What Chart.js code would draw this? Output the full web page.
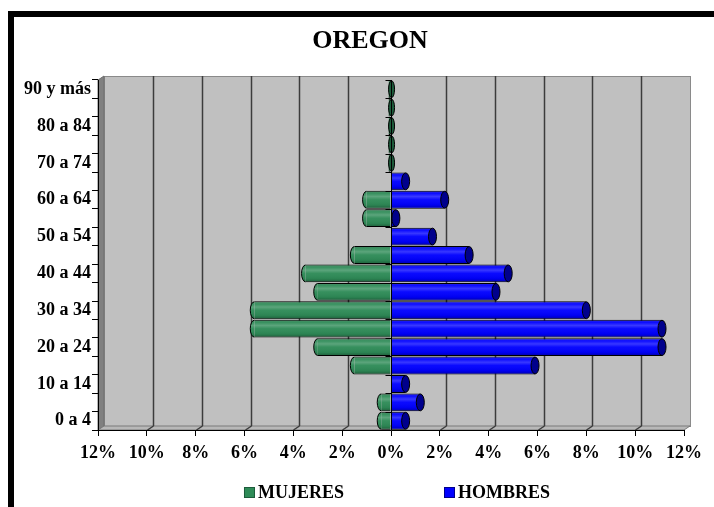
<!DOCTYPE html>
<html>
<head>
<meta charset="utf-8">
<script src="https://cdn.jsdelivr.net/npm/chart.js@4.4.1/dist/chart.umd.min.js"></script>
<style>
  html, body { margin: 0; padding: 0; background: #fff; }
  #wrap { width: 714px; height: 507px; }
</style>
</head>
<body>
<div id="wrap"><canvas id="c" width="714" height="507"></canvas></div>
<script>
// Age groups, from youngest (bottom) to oldest (top)
const ageGroups = ['0 a 4', '5 a 9', '10 a 14', '15 a 19', '20 a 24', '25 a 29', '30 a 34',
  '35 a 39', '40 a 44', '45 a 49', '50 a 54', '55 a 59', '60 a 64', '65 a 69',
  '70 a 74', '75 a 79', '80 a 84', '85 a 89', '90 y más'];

// Share of the population in each age group (%)
const mujeres = [0.4, 0.4, 0, 1.5, 3.0, 5.6, 5.6, 3.0, 3.5, 1.5, 0, 1.0, 1.0, 0, 0.1, 0.1, 0.1, 0.1, 0.1];
const hombres = [0.6, 1.2, 0.6, 5.9, 11.1, 11.1, 8.0, 4.3, 4.8, 3.2, 1.7, 0.2, 2.2, 0.6, 0, 0, 0, 0, 0];

const chartTitle = 'OREGON';
const seriesNames = ['MUJERES', 'HOMBRES'];
const seriesColors = ['#2E8B57', '#0000FF'];
const capColors = ['#1d5c3b', '#00008C'];
const xTickValues = [-12, -10, -8, -6, -4, -2, 0, 2, 4, 6, 8, 10, 12];

const FONT = '"Liberation Serif", "Times New Roman", serif';
const DEPTH = { dx: 6, dy: -4 };

// White page, heavy outer frame, and the 3D walls with their grid lines
const framePlugin = {
  id: 'frame',
  beforeDraw(chart) {
    const { ctx, chartArea: a, scales: { x } } = chart;
    const { dx, dy } = DEPTH;
    const L = a.left, R = a.right, T = a.top, B = a.bottom;
    ctx.save();
    ctx.fillStyle = '#fff';
    ctx.fillRect(0, 0, chart.width, chart.height);
    ctx.strokeStyle = '#000';
    ctx.lineWidth = 6;
    ctx.strokeRect(11, 14, chart.width + 40, chart.height + 40);

    // title
    ctx.fillStyle = '#000';
    ctx.font = 'bold 26px ' + FONT;
    ctx.textAlign = 'center';
    ctx.textBaseline = 'middle';
    ctx.fillText(chartTitle, 370, 41);

    // back wall
    ctx.fillStyle = '#C0C0C0';
    ctx.fillRect(L + dx, T + dy, R - L, B - T);
    ctx.strokeStyle = '#8a8a8a';
    ctx.lineWidth = 1;
    ctx.strokeRect(L + dx + 0.5, T + dy + 0.5, R - L, B - T);

    const poly = (pts, fill, stroke) => {
      ctx.beginPath();
      pts.forEach((p, i) => i ? ctx.lineTo(p[0], p[1]) : ctx.moveTo(p[0], p[1]));
      ctx.closePath();
      ctx.fillStyle = fill; ctx.fill();
      if (stroke) { ctx.strokeStyle = stroke; ctx.stroke(); }
    };
    // side wall
    poly([[L, T], [L + dx, T + dy], [L + dx, B + dy], [L, B]], '#808080', '#6e6e6e');
    // floor
    poly([[L, B], [L + dx, B + dy], [R + dx, B + dy], [R, B]], '#b8b8b8', '#7a7a7a');

    // grid lines on the back wall and the floor
    ctx.lineWidth = 1.5;
    x.ticks.forEach(t => {
      if (t.value === 0 || Math.abs(t.value) >= 12) return;
      const px = Math.round(x.getPixelForValue(t.value)) + 0.5;
      ctx.strokeStyle = '#3c3c3c';
      ctx.beginPath();
      ctx.moveTo(px + dx, T + dy);
      ctx.lineTo(px + dx, B + dy);
      ctx.moveTo(px, B);
      ctx.lineTo(px + dx, B + dy);
      ctx.stroke();
    });
    ctx.restore();
  }
};

// Cylinder shading and end caps on each bar, then the zero axis
const cylinderPlugin = {
  id: 'cylinder',
  afterDatasetsDraw(chart) {
    const ctx = chart.ctx;
    ctx.save();
    chart.data.datasets.forEach((ds, di) => {
      const meta = chart.getDatasetMeta(di);
      meta.data.forEach((bar, i) => {
        const v = ds.data[i];
        if (!v) return;
        const { x, y, base, height } = bar.getProps(['x', 'y', 'base', 'height'], true);
        const top = y - height / 2, h = height;
        const left = Math.min(x, base), w = Math.abs(x - base);
        const shade = ctx.createLinearGradient(0, top, 0, top + h);
        shade.addColorStop(0, 'rgba(0,0,0,0.30)');
        shade.addColorStop(0.15, 'rgba(255,255,255,0.05)');
        shade.addColorStop(0.32, 'rgba(255,255,255,0.22)');
        shade.addColorStop(0.5, 'rgba(255,255,255,0.04)');
        shade.addColorStop(0.8, 'rgba(0,0,0,0.06)');
        shade.addColorStop(1, 'rgba(0,0,0,0.35)');
        ctx.fillStyle = shade;
        ctx.fillRect(left, top + 1, w, h - 2);

        const rx = 4, ry = h / 2;
        ctx.lineWidth = 1;
        ctx.strokeStyle = '#000';
        ctx.beginPath();
        if (v > 0) {
          ctx.ellipse(x, y, rx, ry - 0.5, 0, 0, Math.PI * 2);
          ctx.fillStyle = capColors[di];
          ctx.fill();
          ctx.stroke();
        } else if (w < 4) {
          ctx.ellipse(x + 3, y, 3, ry - 0.5, 0, 0, Math.PI * 2);
          ctx.fillStyle = capColors[di];
          ctx.fill();
          ctx.stroke();
        } else {
          ctx.ellipse(x, y, rx, ry - 0.5, 0, Math.PI / 2, Math.PI * 1.5);
          ctx.fillStyle = seriesColors[di];
          ctx.fill();
          ctx.fillStyle = shade;
          ctx.fill();
          ctx.stroke();
        }
      });
    });

    // category axis drawn at 0 %
    const xs = chart.scales.x, ys = chart.scales.y, a = chart.chartArea;
    const x0 = Math.round(xs.getPixelForValue(0)) + 0.5;
    const step = Math.abs(ys.getPixelForValue(1) - ys.getPixelForValue(0));
    ctx.strokeStyle = '#000';
    ctx.lineWidth = 1;
    ctx.beginPath();
    ctx.moveTo(x0, a.top);
    ctx.lineTo(x0, a.bottom);
    for (let i = 0; i <= ageGroups.length; i++) {
      const yb = Math.round(ys.getPixelForValue(0) + step / 2 - i * step) + 0.5;
      ctx.moveTo(x0 - 6, yb);
      ctx.lineTo(x0, yb);
    }
    ctx.stroke();
    ctx.restore();
  }
};

// Legend drawn under the axis labels
const legendPlugin = {
  id: 'pyramidLegend',
  afterDraw(chart) {
    const { ctx, chartArea: a } = chart;
    ctx.save();
    ctx.font = 'bold 18px ' + FONT;
    ctx.textBaseline = 'middle';
    const box = 11, gap = 3, spacing = 100;
    const widths = seriesNames.map(n => ctx.measureText(n).width);
    const total = widths.reduce((s, w) => s + box + gap + w, 0) + spacing;
    let cx = (a.left + a.right) / 2 + 6 - total / 2;
    const cy = 492;
    seriesNames.forEach((n, i) => {
      ctx.fillStyle = seriesColors[i];
      ctx.fillRect(cx, cy - 5, box, box);
      ctx.strokeStyle = capColors[i];
      ctx.lineWidth = 1;
      ctx.strokeRect(cx + 0.5, cy - 4.5, box - 1, box - 1);
      ctx.fillStyle = '#000';
      ctx.fillText(n, cx + box + gap, cy + 1);
      cx += box + gap + widths[i] + spacing;
    });
    ctx.restore();
  }
};

new Chart(document.getElementById('c'), {
  type: 'bar',
  data: {
    labels: ageGroups,
    datasets: [
      {
        label: seriesNames[0],
        data: mujeres.map(v => -v),
        backgroundColor: seriesColors[0],
        borderColor: '#000',
        borderWidth: { top: 1, bottom: 1, left: 0, right: 0 },
        borderSkipped: false
      },
      {
        label: seriesNames[1],
        data: hombres,
        backgroundColor: seriesColors[1],
        borderColor: '#000',
        borderWidth: { top: 1, bottom: 1, left: 0, right: 0 },
        borderSkipped: false
      }
    ]
  },
  options: {
    indexAxis: 'y',
    responsive: false,
    animation: false,
    devicePixelRatio: 1,
    layout: { padding: { top: 80, left: 14, right: 30, bottom: 37 } },
    datasets: { bar: { categoryPercentage: 0.97, barPercentage: 1 } },
    plugins: {
      legend: { display: false },
      tooltip: { enabled: false },
      title: { display: false }
    },
    scales: {
      x: {
        stacked: true,
        min: -12,
        max: 12,
        afterBuildTicks(scale) { scale.ticks = xTickValues.map(v => ({ value: v })); },
        afterFit(scale) { scale.height = 40; },
        ticks: {
          color: '#000',
          font: { family: FONT, size: 18, weight: 'bold' },
          padding: 7,
          maxRotation: 0,
          callback: v => Math.abs(v) + '%'
        },
        grid: { drawOnChartArea: false, drawTicks: true, tickLength: 6, color: '#000' },
        border: { display: true, color: '#000' }
      },
      y: {
        stacked: true,
        reverse: true,
        afterFit(scale) { scale.width = 84; },
        ticks: {
          color: '#000',
          autoSkip: false,
          padding: 1,
          font: { family: FONT, size: 18, weight: 'bold' },
          callback: (v, i) => (i % 2 === 0 ? ageGroups[i] : '')
        },
        grid: { drawOnChartArea: false, drawTicks: true, tickLength: 6, color: '#000', offset: true },
        border: { display: true, color: '#000' }
      }
    }
  },
  plugins: [framePlugin, cylinderPlugin, legendPlugin]
});
</script>
</body>
</html>
